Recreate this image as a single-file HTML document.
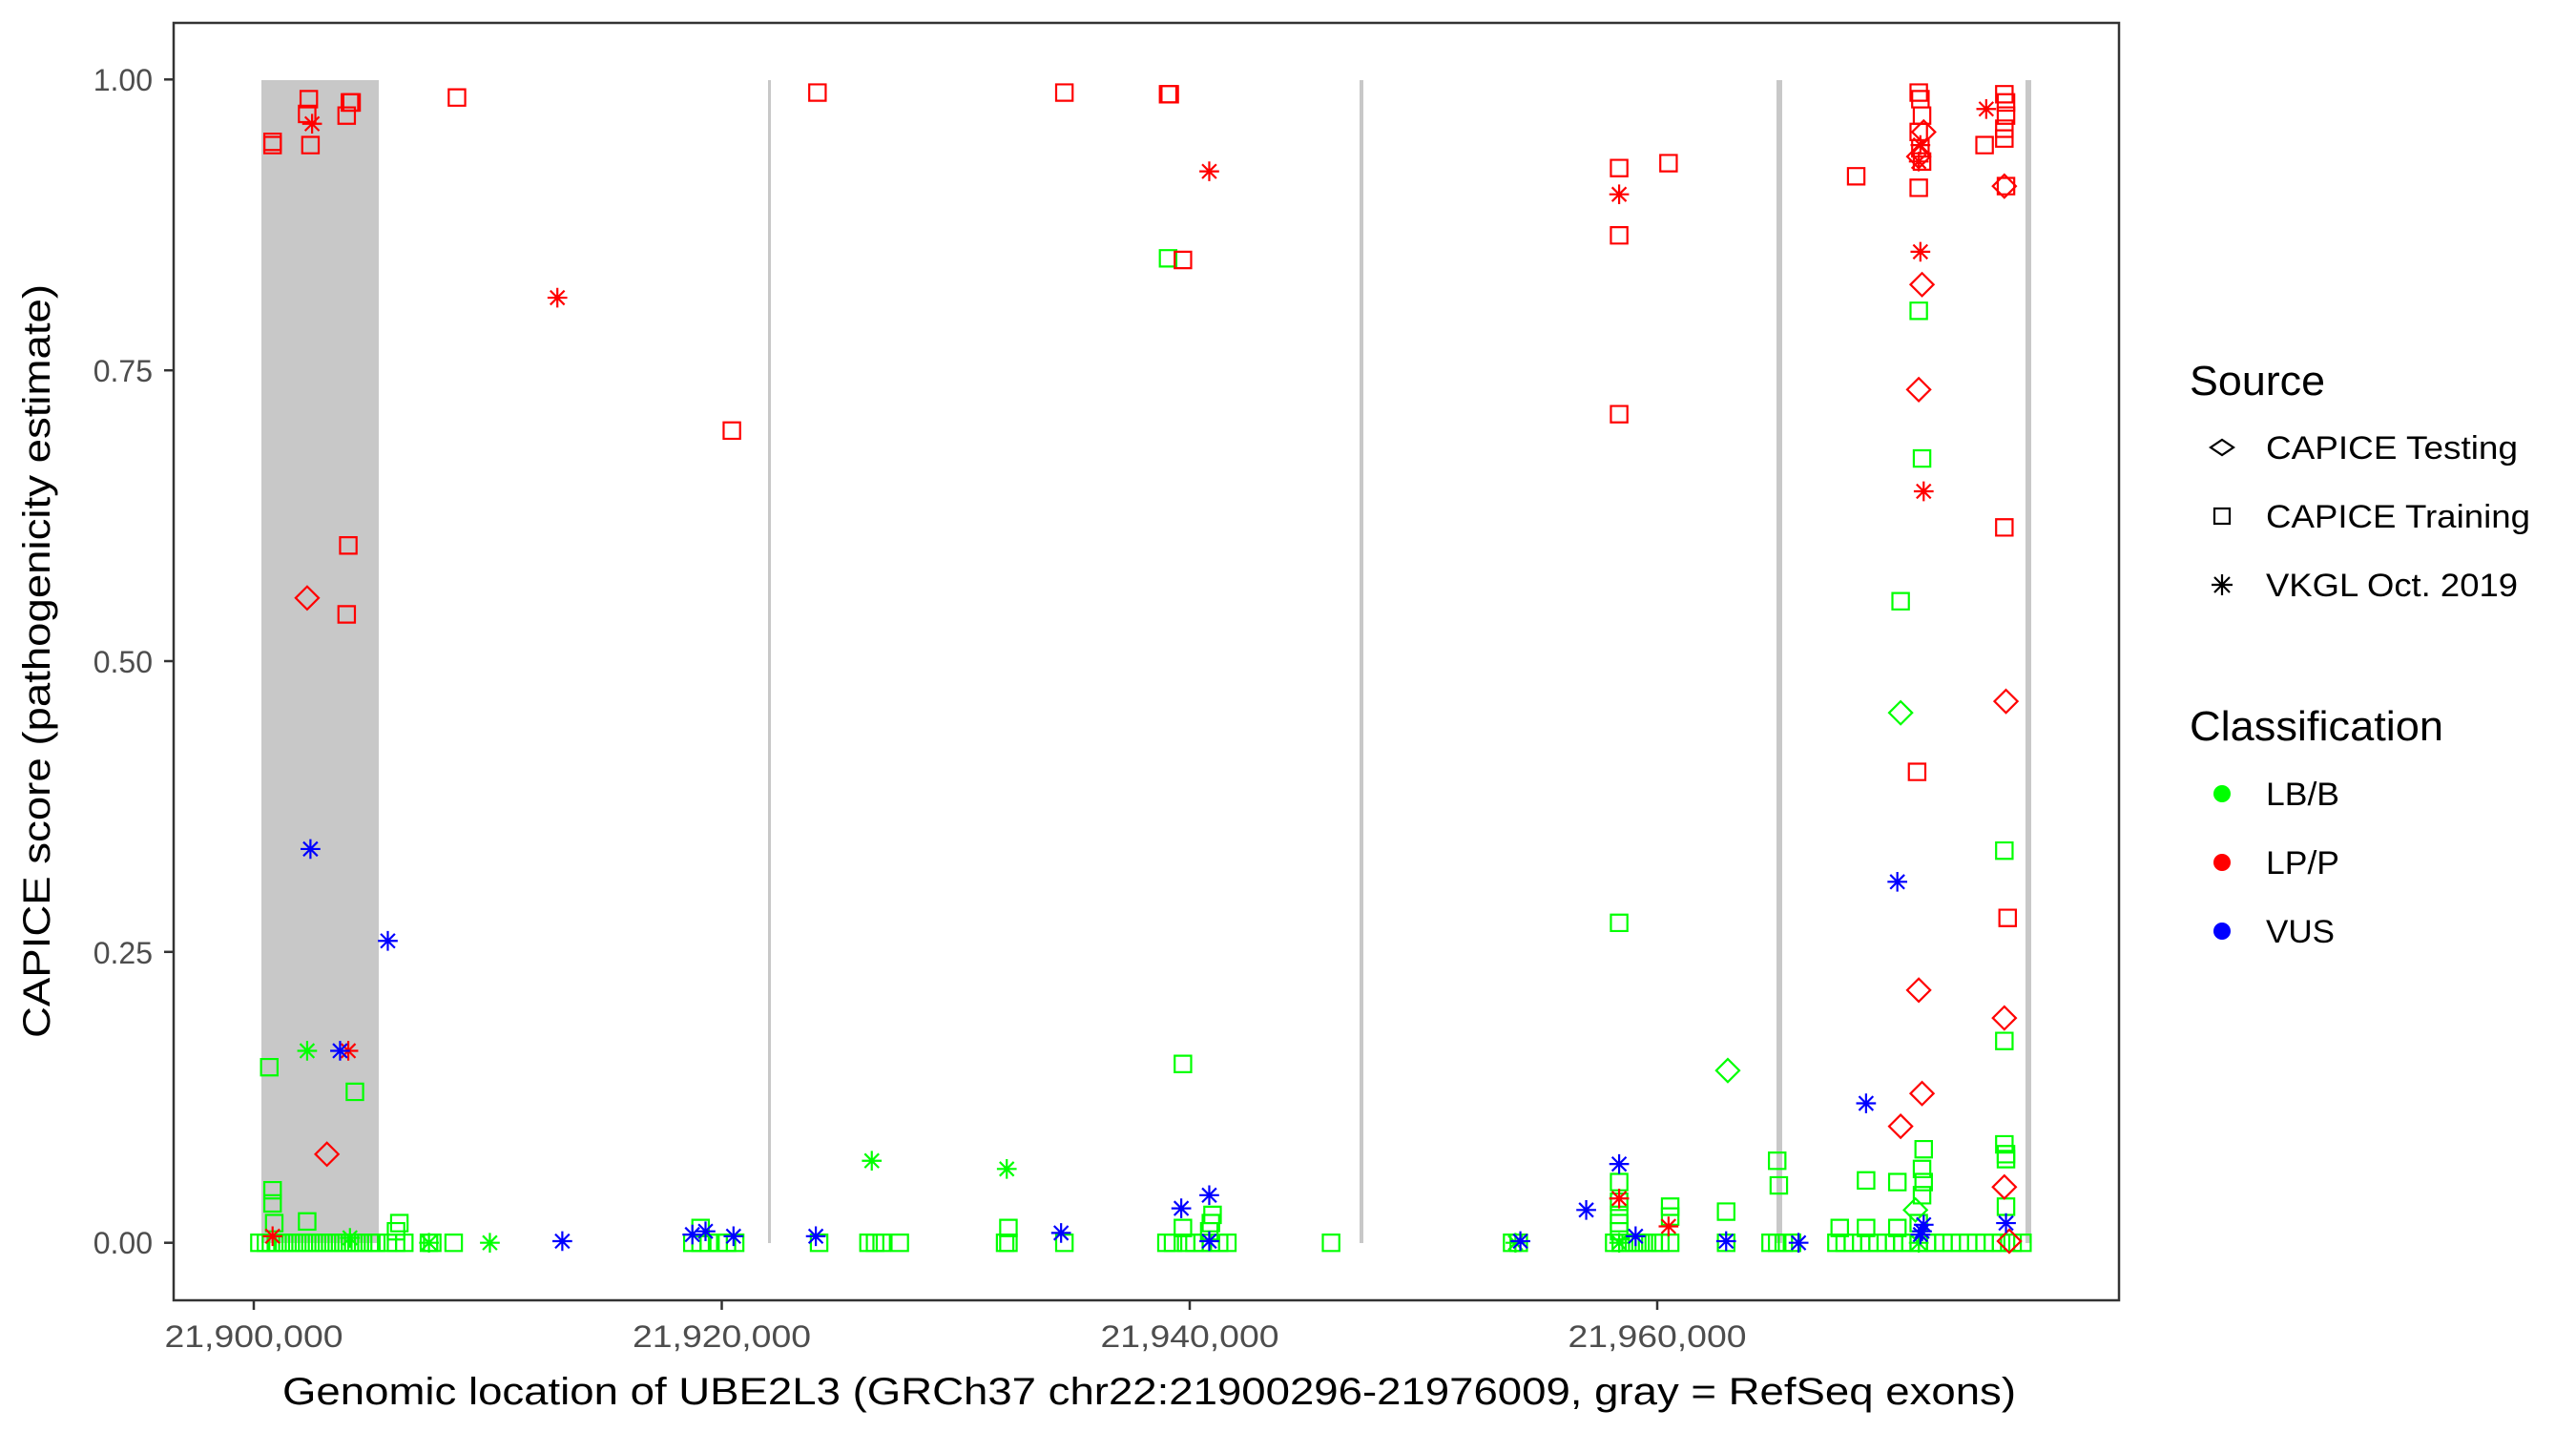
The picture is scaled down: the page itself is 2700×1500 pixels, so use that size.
<!DOCTYPE html>
<html><head><meta charset="utf-8"><style>
html,body{margin:0;padding:0;background:#fff;}
svg{display:block;}
text{font-family:"Liberation Sans",sans-serif;}
</style></head><body>
<svg width="2700" height="1500" viewBox="0 0 2700 1500" xmlns="http://www.w3.org/2000/svg">
<defs>
<path id="sq" d="M-5,-5H5V5H-5Z" fill="none" vector-effect="non-scaling-stroke"/>
<path id="di" d="M0,-7L7,0L0,7L-7,0Z" fill="none" vector-effect="non-scaling-stroke"/>
<path id="as" d="M-6,0H6M0,-6V6M-4.3,-4.3L4.3,4.3M-4.3,4.3L4.3,-4.3" fill="none" vector-effect="non-scaling-stroke"/>
</defs>
<rect x="0" y="0" width="2700" height="1500" fill="#fff"/>
<!-- exons -->
<rect x="274" y="84" width="123" height="1219" fill="#c8c8c8"/>
<rect x="805" y="84" width="3" height="1219" fill="#c8c8c8"/>
<rect x="1425" y="84" width="4" height="1219" fill="#c8c8c8"/>
<rect x="1862" y="84" width="6" height="1219" fill="#c8c8c8"/>
<rect x="2123" y="84" width="6" height="1219" fill="#c8c8c8"/>
<!-- panel border -->
<rect x="182" y="24" width="2039" height="1339" fill="none" stroke="#333" stroke-width="2.5"/>
<!-- y ticks -->
<g stroke="#333" stroke-width="2.5">
<line x1="172" y1="83.3" x2="182" y2="83.3"/>
<line x1="172" y1="388.2" x2="182" y2="388.2"/>
<line x1="172" y1="693" x2="182" y2="693"/>
<line x1="172" y1="997.8" x2="182" y2="997.8"/>
<line x1="172" y1="1302.7" x2="182" y2="1302.7"/>
<line x1="266" y1="1363" x2="266" y2="1373"/>
<line x1="756.5" y1="1363" x2="756.5" y2="1373"/>
<line x1="1247" y1="1363" x2="1247" y2="1373"/>
<line x1="1737" y1="1363" x2="1737" y2="1373"/>
</g>
<g font-size="32" fill="#4d4d4d" text-anchor="end">
<text x="160" y="95">1.00</text>
<text x="160" y="400">0.75</text>
<text x="160" y="705">0.50</text>
<text x="160" y="1010">0.25</text>
<text x="160" y="1314">0.00</text>
</g>
<g font-size="32" fill="#4d4d4d" text-anchor="middle">
<text x="266" y="1412" textLength="187" lengthAdjust="spacingAndGlyphs">21,900,000</text>
<text x="756.5" y="1412" textLength="187" lengthAdjust="spacingAndGlyphs">21,920,000</text>
<text x="1247" y="1412" textLength="187" lengthAdjust="spacingAndGlyphs">21,940,000</text>
<text x="1737" y="1412" textLength="187" lengthAdjust="spacingAndGlyphs">21,960,000</text>
</g>
<text x="296" y="1472" font-size="40" fill="#000" textLength="1817" lengthAdjust="spacingAndGlyphs">Genomic location of UBE2L3 (GRCh37 chr22:21900296-21976009, gray = RefSeq exons)</text>
<text transform="translate(52,693) rotate(-90)" font-size="40" fill="#000" text-anchor="middle" textLength="790" lengthAdjust="spacingAndGlyphs">CAPICE score (pathogenicity estimate)</text>
<!-- legend -->
<text x="2295" y="414" font-size="44" textLength="142" lengthAdjust="spacingAndGlyphs">Source</text>
<g stroke="#000" stroke-width="2.2" fill="none">
<path d="M2317,469L2329,461L2341,469L2329,477Z"/>
<rect x="2321" y="533" width="16" height="16"/>
<path d="M2318,613H2340M2329,602V624M2321,605L2337,621M2321,621L2337,605"/>
</g>
<g font-size="34">
<text x="2375" y="481" textLength="264" lengthAdjust="spacingAndGlyphs">CAPICE Testing</text>
<text x="2375" y="553" textLength="277" lengthAdjust="spacingAndGlyphs">CAPICE Training</text>
<text x="2375" y="625" textLength="264" lengthAdjust="spacingAndGlyphs">VKGL Oct. 2019</text>
</g>
<text x="2295" y="776" font-size="44" textLength="266" lengthAdjust="spacingAndGlyphs">Classification</text>
<circle cx="2329" cy="832" r="9" fill="#00ff00"/>
<circle cx="2329" cy="904" r="9" fill="#ff0000"/>
<circle cx="2329" cy="976" r="9" fill="#0000ff"/>
<g font-size="34">
<text x="2375" y="844" textLength="77" lengthAdjust="spacingAndGlyphs">LB/B</text>
<text x="2375" y="916" textLength="77" lengthAdjust="spacingAndGlyphs">LP/P</text>
<text x="2375" y="988" textLength="72" lengthAdjust="spacingAndGlyphs">VUS</text>
</g>
<!-- data in display coords -->
<g transform="matrix(1.7254,0,0,1.7199,1.014,0.747)" stroke-width="2.2">
<g stroke="#00ff00">
<use href="#sq" x="157" y="757"/><use href="#sq" x="161" y="757"/><use href="#sq" x="164" y="757"/><use href="#sq" x="168" y="757"/><use href="#sq" x="172" y="757"/><use href="#sq" x="176" y="757"/><use href="#sq" x="180" y="757"/><use href="#sq" x="184" y="757"/><use href="#sq" x="188" y="757"/><use href="#sq" x="192" y="757"/><use href="#sq" x="196" y="757"/><use href="#sq" x="200" y="757"/><use href="#sq" x="204" y="757"/><use href="#sq" x="208" y="757"/><use href="#sq" x="212" y="757"/><use href="#sq" x="216" y="757"/><use href="#sq" x="220" y="757"/><use href="#sq" x="224" y="757"/><use href="#sq" x="228" y="757"/><use href="#sq" x="235" y="757"/><use href="#sq" x="240" y="757"/><use href="#sq" x="245" y="757"/><use href="#sq" x="260" y="757"/><use href="#sq" x="262" y="757"/><use href="#sq" x="275" y="757"/><use href="#sq" x="420" y="757"/><use href="#sq" x="425" y="757"/><use href="#sq" x="430" y="757"/><use href="#sq" x="436" y="757"/><use href="#sq" x="441" y="757"/><use href="#sq" x="446" y="757"/><use href="#sq" x="497" y="757"/><use href="#sq" x="527" y="757"/><use href="#sq" x="531" y="757"/><use href="#sq" x="535" y="757"/><use href="#sq" x="546" y="757"/><use href="#sq" x="610" y="757"/><use href="#sq" x="612" y="757"/><use href="#sq" x="646" y="757"/><use href="#sq" x="708" y="757"/><use href="#sq" x="712" y="757"/><use href="#sq" x="720" y="757"/><use href="#sq" x="725" y="757"/><use href="#sq" x="730" y="757"/><use href="#sq" x="735" y="757"/><use href="#sq" x="740" y="757"/><use href="#sq" x="745" y="757"/><use href="#sq" x="808" y="757"/><use href="#sq" x="918" y="757"/><use href="#sq" x="922" y="757"/><use href="#sq" x="980" y="757"/><use href="#sq" x="984" y="757"/><use href="#sq" x="988" y="757"/><use href="#sq" x="992" y="757"/><use href="#sq" x="996" y="757"/><use href="#sq" x="1000" y="757"/><use href="#sq" x="1004" y="757"/><use href="#sq" x="1008" y="757"/><use href="#sq" x="1014" y="757"/><use href="#sq" x="1048" y="757"/><use href="#sq" x="1075" y="757"/><use href="#sq" x="1079" y="757"/><use href="#sq" x="1083" y="757"/><use href="#sq" x="1088" y="757"/><use href="#sq" x="1115" y="757"/><use href="#sq" x="1120" y="757"/><use href="#sq" x="1125" y="757"/><use href="#sq" x="1130" y="757"/><use href="#sq" x="1135" y="757"/><use href="#sq" x="1140" y="757"/><use href="#sq" x="1145" y="757"/><use href="#sq" x="1150" y="757"/><use href="#sq" x="1155" y="757"/><use href="#sq" x="1160" y="757"/><use href="#sq" x="1165" y="757"/><use href="#sq" x="1170" y="757"/><use href="#sq" x="1175" y="757"/><use href="#sq" x="1180" y="757"/><use href="#sq" x="1185" y="757"/><use href="#sq" x="1190" y="757"/><use href="#sq" x="1195" y="757"/><use href="#sq" x="1200" y="757"/><use href="#sq" x="1205" y="757"/><use href="#sq" x="1210" y="757"/><use href="#sq" x="1215" y="757"/><use href="#sq" x="1222" y="757"/><use href="#sq" x="1228" y="757"/>
<use href="#sq" x="240" y="750"/><use href="#sq" x="242" y="745"/><use href="#sq" x="425" y="748"/><use href="#sq" x="735" y="745"/><use href="#sq" x="736" y="740"/><use href="#sq" x="734" y="750"/><use href="#sq" x="983" y="745"/><use href="#sq" x="983" y="740"/><use href="#sq" x="983" y="750"/><use href="#sq" x="1014" y="741"/><use href="#sq" x="1014" y="735"/><use href="#sq" x="1133" y="748"/><use href="#sq" x="1117" y="748"/><use href="#sq" x="1152" y="748"/><use href="#sq" x="1165" y="745"/><use href="#sq" x="1048" y="738"/><use href="#sq" x="718" y="748"/><use href="#sq" x="612" y="748"/>
<use href="#sq" x="163" y="650"/><use href="#sq" x="165" y="725"/><use href="#sq" x="165" y="733"/><use href="#sq" x="166" y="745"/><use href="#sq" x="186" y="744"/><use href="#sq" x="215" y="665"/><use href="#sq" x="709" y="157"/><use href="#sq" x="718" y="648"/><use href="#sq" x="1079" y="707"/><use href="#sq" x="1080" y="722"/><use href="#sq" x="983" y="562"/><use href="#sq" x="983" y="720"/><use href="#sq" x="983" y="732"/><use href="#sq" x="1154" y="366"/><use href="#sq" x="1165" y="189"/><use href="#sq" x="1167" y="279"/><use href="#sq" x="1217" y="518"/><use href="#sq" x="1217" y="634"/><use href="#sq" x="1217" y="697"/><use href="#sq" x="1218" y="703"/><use href="#sq" x="1218" y="706"/><use href="#sq" x="1168" y="700"/><use href="#sq" x="1167" y="712"/><use href="#sq" x="1168" y="720"/><use href="#sq" x="1167" y="728"/><use href="#sq" x="1133" y="719"/><use href="#sq" x="1152" y="720"/><use href="#sq" x="1218" y="735"/>
<use href="#di" x="1163" y="737"/><use href="#di" x="1154" y="434"/><use href="#di" x="1049" y="652"/>
<use href="#as" x="186" y="640"/><use href="#as" x="297" y="757"/><use href="#as" x="529" y="707"/><use href="#as" x="611" y="712"/><use href="#as" x="920" y="757"/><use href="#as" x="1165" y="757"/><use href="#as" x="260" y="757"/><use href="#as" x="212" y="754"/><use href="#as" x="983" y="757"/>
</g>
<g stroke="#ff0000">
<use href="#sq" x="165" y="86"/><use href="#sq" x="165" y="88"/><use href="#sq" x="187" y="60"/><use href="#sq" x="186" y="69"/><use href="#sq" x="188" y="88"/><use href="#sq" x="210" y="70"/><use href="#sq" x="212" y="62"/><use href="#sq" x="213" y="62"/><use href="#sq" x="211" y="332"/><use href="#sq" x="210" y="374"/><use href="#sq" x="277" y="59"/><use href="#sq" x="444" y="262"/><use href="#sq" x="496" y="56"/><use href="#sq" x="646" y="56"/><use href="#sq" x="709" y="57"/><use href="#sq" x="710" y="57"/><use href="#sq" x="718" y="158"/><use href="#sq" x="983" y="102"/><use href="#sq" x="983" y="143"/><use href="#sq" x="983" y="252"/><use href="#sq" x="1013" y="99"/><use href="#sq" x="1127" y="107"/><use href="#sq" x="1165" y="56"/><use href="#sq" x="1166" y="60"/><use href="#sq" x="1167" y="70"/><use href="#sq" x="1165" y="80"/><use href="#sq" x="1166" y="90"/><use href="#sq" x="1167" y="98"/><use href="#sq" x="1165" y="114"/><use href="#sq" x="1164" y="470"/><use href="#sq" x="1205" y="88"/><use href="#sq" x="1217" y="57"/><use href="#sq" x="1218" y="62"/><use href="#sq" x="1218" y="70"/><use href="#sq" x="1217" y="78"/><use href="#sq" x="1217" y="84"/><use href="#sq" x="1218" y="113"/><use href="#sq" x="1217" y="321"/><use href="#sq" x="1219" y="559"/>
<use href="#di" x="186" y="364"/><use href="#di" x="198" y="703"/><use href="#di" x="1165" y="95"/><use href="#di" x="1167" y="173"/><use href="#di" x="1165" y="237"/><use href="#di" x="1165" y="603"/><use href="#di" x="1167" y="666"/><use href="#di" x="1154" y="686"/><use href="#di" x="1217" y="113"/><use href="#di" x="1218" y="427"/><use href="#di" x="1217" y="620"/><use href="#di" x="1217" y="723"/><use href="#di" x="1220" y="756"/><use href="#di" x="1168" y="80"/>
<use href="#as" x="189" y="75"/><use href="#as" x="338" y="181"/><use href="#as" x="211" y="640"/><use href="#as" x="165" y="753"/><use href="#as" x="734" y="104"/><use href="#as" x="983" y="118"/><use href="#as" x="1013" y="747"/><use href="#as" x="983" y="730"/><use href="#as" x="1166" y="153"/><use href="#as" x="1168" y="299"/><use href="#as" x="1166" y="88"/><use href="#as" x="1206" y="66"/><use href="#as" x="1165" y="98"/>
</g>
<g stroke="#0000ff">
<use href="#as" x="188" y="517"/><use href="#as" x="235" y="573"/><use href="#as" x="206" y="640"/><use href="#as" x="341" y="756"/><use href="#as" x="420" y="752"/><use href="#as" x="428" y="750"/><use href="#as" x="445" y="753"/><use href="#as" x="495" y="753"/><use href="#as" x="644" y="751"/><use href="#as" x="717" y="736"/><use href="#as" x="734" y="728"/><use href="#as" x="734" y="756"/><use href="#as" x="923" y="756"/><use href="#as" x="963" y="737"/><use href="#as" x="983" y="709"/><use href="#as" x="993" y="753"/><use href="#as" x="1048" y="756"/><use href="#as" x="1092" y="757"/><use href="#as" x="1133" y="672"/><use href="#as" x="1152" y="537"/><use href="#as" x="1167" y="750"/><use href="#as" x="1168" y="746"/><use href="#as" x="1218" y="745"/><use href="#as" x="1166" y="752"/>
</g>
</g>
</svg>
</body></html>
